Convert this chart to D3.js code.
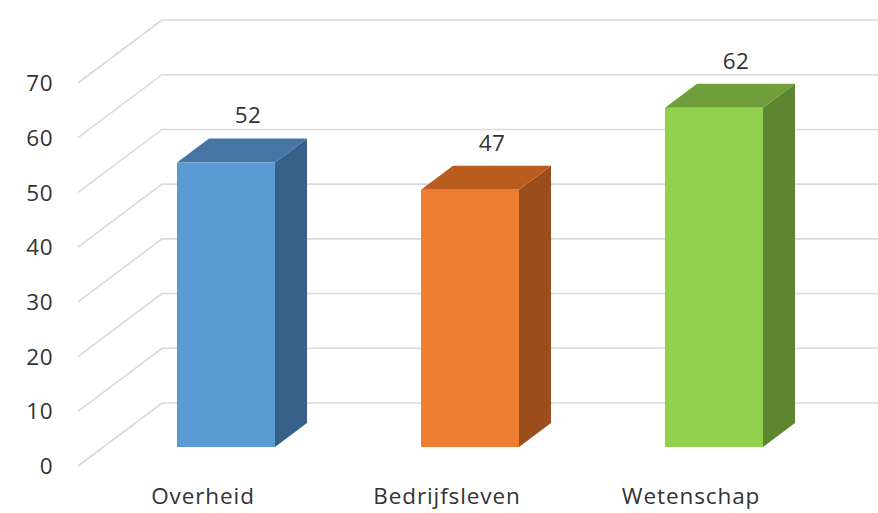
<!DOCTYPE html>
<html><head><meta charset="utf-8">
<script src="https://cdn.jsdelivr.net/npm/d3@7/dist/d3.min.js"></script>
<style>body{margin:0;background:#fff}svg{display:block}text{font-family:"Open Sans","Noto Sans",sans-serif;fill:#333}</style>
</head><body><svg id="c" width="878" height="513"></svg>
<script>
const categories = ["Overheid", "Bedrijfsleven", "Wetenschap"];
const values = [52, 47, 62];
const yTicks = [0, 10, 20, 30, 40, 50, 60, 70];
const fronts = ["#5B9BD5", "#ED7D31", "#92D050"];
const tops = ["#4676A6", "#B95C1E", "#6F9E3A"];
const sides = ["#38618A", "#9B4E1C", "#5E8630"];

const svg = d3.select("#c");
const y = d3.scaleLinear().domain([0, 70]).range([403, 20]);
const wallDx = 84, wallDy = 63;      // left wall depth
const frontDy = 44;                  // bar front plane offset from back wall
const x = d3.scalePoint().domain(categories).range([226, 714]);
const bw = 98, dx = 32, dy = 24;
const yF = v => y(v) + frontDy;

const grid = svg.append("g").attr("stroke", "#d9d9d9").attr("stroke-width", 1.6).attr("fill", "none");
yTicks.forEach(t => {
  grid.append("path").attr("d", `M${162 - wallDx},${y(t) + wallDy}L162,${y(t)}L878,${y(t)}`);
});

svg.append("g").selectAll("text").data(yTicks).join("text")
  .attr("x", 53).attr("y", d => y(d) + wallDy).attr("dy", "0.36em")
  .attr("text-anchor", "end").attr("font-size", 22.5).attr("letter-spacing", 0.5).text(d => d);

const bars = svg.append("g");
categories.forEach((c, i) => {
  const v = values[i];
  const x0 = x(c) - bw / 2, x1 = x(c) + bw / 2;
  const yt = yF(v), yb = yF(0);
  bars.append("path").attr("fill", sides[i])
    .attr("d", `M${x1},${yt}L${x1 + dx},${yt - dy}L${x1 + dx},${yb - dy}L${x1},${yb}Z`);
  bars.append("path").attr("fill", tops[i])
    .attr("d", `M${x0},${yt}L${x0 + dx},${yt - dy}L${x1 + dx},${yt - dy}L${x1},${yt}Z`);
  bars.append("rect").attr("fill", fronts[i])
    .attr("x", x0).attr("y", yt).attr("width", bw).attr("height", yb - yt);
  svg.append("text").attr("x", x(c) + 22).attr("y", yt - 39)
    .attr("text-anchor", "middle").attr("font-size", 22.5).attr("letter-spacing", 0.5).text(v);
  svg.append("text").attr("x", x(c) - 23).attr("y", 504)
    .attr("text-anchor", "middle").attr("font-size", 22.5).attr("letter-spacing", 0.9).text(c);
});
</script></body></html>
